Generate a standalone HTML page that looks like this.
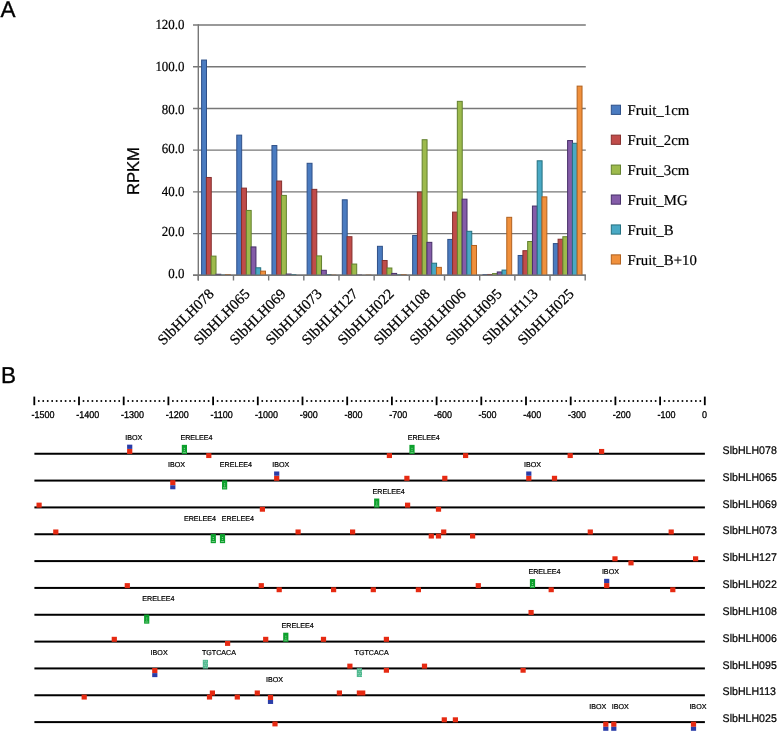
<!DOCTYPE html>
<html><head><meta charset="utf-8"><style>
html,body{margin:0;padding:0;background:#fff;}
body{width:778px;height:732px;overflow:hidden;}
svg{display:block;will-change:transform;} text{text-rendering:geometricPrecision;}
</style></head><body>
<svg width="778" height="732" viewBox="0 0 778 732">
<text transform="translate(0.6,17.0)" font-family='"Liberation Sans", sans-serif' font-size="22.5" fill="#000" stroke="#000" stroke-width="0.35">A</text>
<line x1="193" y1="275.30" x2="585.80" y2="275.30" stroke="#777777" stroke-width="1.4"/>
<text transform="translate(184.4,277.90) scale(1,1.08)" text-anchor="end" font-family='"Liberation Serif", serif' font-size="12.9" fill="#000" stroke="#000" stroke-width="0.2">0.0</text>
<line x1="193" y1="233.58" x2="585.80" y2="233.58" stroke="#777777" stroke-width="1.4"/>
<text transform="translate(184.4,236.20) scale(1,1.08)" text-anchor="end" font-family='"Liberation Serif", serif' font-size="12.9" fill="#000" stroke="#000" stroke-width="0.2">20.0</text>
<line x1="193" y1="191.87" x2="585.80" y2="191.87" stroke="#777777" stroke-width="1.4"/>
<text transform="translate(184.4,195.80) scale(1,1.08)" text-anchor="end" font-family='"Liberation Serif", serif' font-size="12.9" fill="#000" stroke="#000" stroke-width="0.2">40.0</text>
<line x1="193" y1="150.15" x2="585.80" y2="150.15" stroke="#777777" stroke-width="1.4"/>
<text transform="translate(184.4,152.60) scale(1,1.08)" text-anchor="end" font-family='"Liberation Serif", serif' font-size="12.9" fill="#000" stroke="#000" stroke-width="0.2">60.0</text>
<line x1="193" y1="108.43" x2="585.80" y2="108.43" stroke="#777777" stroke-width="1.4"/>
<text transform="translate(184.4,113.80) scale(1,1.08)" text-anchor="end" font-family='"Liberation Serif", serif' font-size="12.9" fill="#000" stroke="#000" stroke-width="0.2">80.0</text>
<line x1="193" y1="66.72" x2="585.80" y2="66.72" stroke="#777777" stroke-width="1.4"/>
<text transform="translate(184.4,70.90) scale(1,1.08)" text-anchor="end" font-family='"Liberation Serif", serif' font-size="12.9" fill="#000" stroke="#000" stroke-width="0.2">100.0</text>
<line x1="193" y1="25.00" x2="585.80" y2="25.00" stroke="#777777" stroke-width="1.4"/>
<text transform="translate(184.4,28.60) scale(1,1.08)" text-anchor="end" font-family='"Liberation Serif", serif' font-size="12.9" fill="#000" stroke="#000" stroke-width="0.2">120.0</text>
<line x1="198.30" y1="24.3" x2="198.30" y2="280.5" stroke="#777777" stroke-width="1.4"/>
<line x1="198.30" y1="275.30" x2="198.30" y2="280.5" stroke="#777777" stroke-width="1.4"/>
<line x1="233.47" y1="275.30" x2="233.47" y2="280.5" stroke="#777777" stroke-width="1.4"/>
<line x1="268.65" y1="275.30" x2="268.65" y2="280.5" stroke="#777777" stroke-width="1.4"/>
<line x1="303.82" y1="275.30" x2="303.82" y2="280.5" stroke="#777777" stroke-width="1.4"/>
<line x1="338.99" y1="275.30" x2="338.99" y2="280.5" stroke="#777777" stroke-width="1.4"/>
<line x1="374.16" y1="275.30" x2="374.16" y2="280.5" stroke="#777777" stroke-width="1.4"/>
<line x1="409.34" y1="275.30" x2="409.34" y2="280.5" stroke="#777777" stroke-width="1.4"/>
<line x1="444.51" y1="275.30" x2="444.51" y2="280.5" stroke="#777777" stroke-width="1.4"/>
<line x1="479.68" y1="275.30" x2="479.68" y2="280.5" stroke="#777777" stroke-width="1.4"/>
<line x1="514.85" y1="275.30" x2="514.85" y2="280.5" stroke="#777777" stroke-width="1.4"/>
<line x1="550.03" y1="275.30" x2="550.03" y2="280.5" stroke="#777777" stroke-width="1.4"/>
<line x1="585.20" y1="275.30" x2="585.20" y2="280.5" stroke="#777777" stroke-width="1.4"/>
<rect x="201.60" y="60.04" width="4.9" height="215.26" fill="#4A7BC0" stroke="#2F5088" stroke-width="1"/>
<rect x="206.36" y="177.47" width="4.9" height="97.83" fill="#C04C4A" stroke="#85302E" stroke-width="1"/>
<rect x="211.12" y="256.11" width="4.9" height="19.19" fill="#9DBA4C" stroke="#62802E" stroke-width="1"/>
<rect x="215.88" y="274.26" width="4.9" height="1.04" fill="#845CA8" stroke="#472F68" stroke-width="1"/>
<rect x="220.64" y="275.09" width="4.9" height="0.21" fill="#49A9C4" stroke="#24707F" stroke-width="1"/>
<rect x="225.40" y="274.67" width="4.9" height="0.63" fill="#F0903C" stroke="#B0611F" stroke-width="1"/>
<rect x="236.77" y="135.13" width="4.9" height="140.17" fill="#4A7BC0" stroke="#2F5088" stroke-width="1"/>
<rect x="241.53" y="188.11" width="4.9" height="87.19" fill="#C04C4A" stroke="#85302E" stroke-width="1"/>
<rect x="246.29" y="210.43" width="4.9" height="64.87" fill="#9DBA4C" stroke="#62802E" stroke-width="1"/>
<rect x="251.05" y="246.93" width="4.9" height="28.37" fill="#845CA8" stroke="#472F68" stroke-width="1"/>
<rect x="255.81" y="267.79" width="4.9" height="7.51" fill="#49A9C4" stroke="#24707F" stroke-width="1"/>
<rect x="260.57" y="271.13" width="4.9" height="4.17" fill="#F0903C" stroke="#B0611F" stroke-width="1"/>
<rect x="271.95" y="145.56" width="4.9" height="129.74" fill="#4A7BC0" stroke="#2F5088" stroke-width="1"/>
<rect x="276.71" y="181.02" width="4.9" height="94.28" fill="#C04C4A" stroke="#85302E" stroke-width="1"/>
<rect x="281.47" y="195.41" width="4.9" height="79.89" fill="#9DBA4C" stroke="#62802E" stroke-width="1"/>
<rect x="286.23" y="274.05" width="4.9" height="1.25" fill="#845CA8" stroke="#472F68" stroke-width="1"/>
<rect x="290.99" y="274.67" width="4.9" height="0.63" fill="#49A9C4" stroke="#24707F" stroke-width="1"/>
<rect x="307.12" y="163.29" width="4.9" height="112.01" fill="#4A7BC0" stroke="#2F5088" stroke-width="1"/>
<rect x="311.88" y="189.36" width="4.9" height="85.94" fill="#C04C4A" stroke="#85302E" stroke-width="1"/>
<rect x="316.64" y="255.90" width="4.9" height="19.40" fill="#9DBA4C" stroke="#62802E" stroke-width="1"/>
<rect x="321.40" y="270.29" width="4.9" height="5.01" fill="#845CA8" stroke="#472F68" stroke-width="1"/>
<rect x="326.16" y="274.67" width="4.9" height="0.63" fill="#49A9C4" stroke="#24707F" stroke-width="1"/>
<rect x="330.92" y="275.09" width="4.9" height="0.21" fill="#F0903C" stroke="#B0611F" stroke-width="1"/>
<rect x="342.29" y="199.79" width="4.9" height="75.51" fill="#4A7BC0" stroke="#2F5088" stroke-width="1"/>
<rect x="347.05" y="236.71" width="4.9" height="38.59" fill="#C04C4A" stroke="#85302E" stroke-width="1"/>
<rect x="351.81" y="264.04" width="4.9" height="11.26" fill="#9DBA4C" stroke="#62802E" stroke-width="1"/>
<rect x="356.57" y="275.09" width="4.9" height="0.21" fill="#845CA8" stroke="#472F68" stroke-width="1"/>
<rect x="366.09" y="275.09" width="4.9" height="0.21" fill="#F0903C" stroke="#B0611F" stroke-width="1"/>
<rect x="377.46" y="246.31" width="4.9" height="28.99" fill="#4A7BC0" stroke="#2F5088" stroke-width="1"/>
<rect x="382.22" y="260.49" width="4.9" height="14.81" fill="#C04C4A" stroke="#85302E" stroke-width="1"/>
<rect x="386.98" y="268.00" width="4.9" height="7.30" fill="#9DBA4C" stroke="#62802E" stroke-width="1"/>
<rect x="391.74" y="273.42" width="4.9" height="1.88" fill="#845CA8" stroke="#472F68" stroke-width="1"/>
<rect x="396.50" y="274.88" width="4.9" height="0.42" fill="#49A9C4" stroke="#24707F" stroke-width="1"/>
<rect x="401.26" y="274.67" width="4.9" height="0.63" fill="#F0903C" stroke="#B0611F" stroke-width="1"/>
<rect x="412.64" y="235.46" width="4.9" height="39.84" fill="#4A7BC0" stroke="#2F5088" stroke-width="1"/>
<rect x="417.40" y="192.08" width="4.9" height="83.22" fill="#C04C4A" stroke="#85302E" stroke-width="1"/>
<rect x="422.16" y="139.72" width="4.9" height="135.58" fill="#9DBA4C" stroke="#62802E" stroke-width="1"/>
<rect x="426.92" y="242.34" width="4.9" height="32.96" fill="#845CA8" stroke="#472F68" stroke-width="1"/>
<rect x="431.68" y="263.20" width="4.9" height="12.10" fill="#49A9C4" stroke="#24707F" stroke-width="1"/>
<rect x="436.44" y="267.37" width="4.9" height="7.93" fill="#F0903C" stroke="#B0611F" stroke-width="1"/>
<rect x="447.81" y="239.42" width="4.9" height="35.88" fill="#4A7BC0" stroke="#2F5088" stroke-width="1"/>
<rect x="452.57" y="212.10" width="4.9" height="63.20" fill="#C04C4A" stroke="#85302E" stroke-width="1"/>
<rect x="457.33" y="101.34" width="4.9" height="173.96" fill="#9DBA4C" stroke="#62802E" stroke-width="1"/>
<rect x="462.09" y="199.17" width="4.9" height="76.13" fill="#845CA8" stroke="#472F68" stroke-width="1"/>
<rect x="466.85" y="231.29" width="4.9" height="44.01" fill="#49A9C4" stroke="#24707F" stroke-width="1"/>
<rect x="471.61" y="245.47" width="4.9" height="29.83" fill="#F0903C" stroke="#B0611F" stroke-width="1"/>
<rect x="482.98" y="274.67" width="4.9" height="0.63" fill="#4A7BC0" stroke="#2F5088" stroke-width="1"/>
<rect x="487.74" y="274.47" width="4.9" height="0.83" fill="#C04C4A" stroke="#85302E" stroke-width="1"/>
<rect x="492.50" y="273.63" width="4.9" height="1.67" fill="#9DBA4C" stroke="#62802E" stroke-width="1"/>
<rect x="497.26" y="271.96" width="4.9" height="3.34" fill="#845CA8" stroke="#472F68" stroke-width="1"/>
<rect x="502.02" y="270.09" width="4.9" height="5.21" fill="#49A9C4" stroke="#24707F" stroke-width="1"/>
<rect x="506.78" y="217.31" width="4.9" height="57.99" fill="#F0903C" stroke="#B0611F" stroke-width="1"/>
<rect x="518.15" y="255.48" width="4.9" height="19.82" fill="#4A7BC0" stroke="#2F5088" stroke-width="1"/>
<rect x="522.91" y="250.69" width="4.9" height="24.61" fill="#C04C4A" stroke="#85302E" stroke-width="1"/>
<rect x="527.67" y="241.51" width="4.9" height="33.79" fill="#9DBA4C" stroke="#62802E" stroke-width="1"/>
<rect x="532.43" y="206.05" width="4.9" height="69.25" fill="#845CA8" stroke="#472F68" stroke-width="1"/>
<rect x="537.19" y="160.79" width="4.9" height="114.51" fill="#49A9C4" stroke="#24707F" stroke-width="1"/>
<rect x="541.95" y="196.87" width="4.9" height="78.43" fill="#F0903C" stroke="#B0611F" stroke-width="1"/>
<rect x="553.33" y="243.60" width="4.9" height="31.70" fill="#4A7BC0" stroke="#2F5088" stroke-width="1"/>
<rect x="558.09" y="239.22" width="4.9" height="36.08" fill="#C04C4A" stroke="#85302E" stroke-width="1"/>
<rect x="562.85" y="236.71" width="4.9" height="38.59" fill="#9DBA4C" stroke="#62802E" stroke-width="1"/>
<rect x="567.61" y="140.56" width="4.9" height="134.74" fill="#845CA8" stroke="#472F68" stroke-width="1"/>
<rect x="572.37" y="143.27" width="4.9" height="132.03" fill="#49A9C4" stroke="#24707F" stroke-width="1"/>
<rect x="577.13" y="86.11" width="4.9" height="189.19" fill="#F0903C" stroke="#B0611F" stroke-width="1"/>
<line x1="193" y1="275.30" x2="585.80" y2="275.30" stroke="#777777" stroke-width="1.4"/>
<text transform="translate(214.70,294.70) rotate(-45)" text-anchor="end" font-family='"Liberation Serif", serif' font-size="14.8" fill="#000" stroke="#000" stroke-width="0.25">SlbHLH078</text>
<text transform="translate(250.70,294.70) rotate(-45)" text-anchor="end" font-family='"Liberation Serif", serif' font-size="14.8" fill="#000" stroke="#000" stroke-width="0.25">SlbHLH065</text>
<text transform="translate(286.70,294.70) rotate(-45)" text-anchor="end" font-family='"Liberation Serif", serif' font-size="14.8" fill="#000" stroke="#000" stroke-width="0.25">SlbHLH069</text>
<text transform="translate(322.70,294.70) rotate(-45)" text-anchor="end" font-family='"Liberation Serif", serif' font-size="14.8" fill="#000" stroke="#000" stroke-width="0.25">SlbHLH073</text>
<text transform="translate(358.70,294.70) rotate(-45)" text-anchor="end" font-family='"Liberation Serif", serif' font-size="14.8" fill="#000" stroke="#000" stroke-width="0.25">SlbHLH127</text>
<text transform="translate(394.70,294.70) rotate(-45)" text-anchor="end" font-family='"Liberation Serif", serif' font-size="14.8" fill="#000" stroke="#000" stroke-width="0.25">SlbHLH022</text>
<text transform="translate(430.70,294.70) rotate(-45)" text-anchor="end" font-family='"Liberation Serif", serif' font-size="14.8" fill="#000" stroke="#000" stroke-width="0.25">SlbHLH108</text>
<text transform="translate(466.70,294.70) rotate(-45)" text-anchor="end" font-family='"Liberation Serif", serif' font-size="14.8" fill="#000" stroke="#000" stroke-width="0.25">SlbHLH006</text>
<text transform="translate(502.70,294.70) rotate(-45)" text-anchor="end" font-family='"Liberation Serif", serif' font-size="14.8" fill="#000" stroke="#000" stroke-width="0.25">SlbHLH095</text>
<text transform="translate(538.70,294.70) rotate(-45)" text-anchor="end" font-family='"Liberation Serif", serif' font-size="14.8" fill="#000" stroke="#000" stroke-width="0.25">SlbHLH113</text>
<text transform="translate(574.70,294.70) rotate(-45)" text-anchor="end" font-family='"Liberation Serif", serif' font-size="14.8" fill="#000" stroke="#000" stroke-width="0.25">SlbHLH025</text>
<text transform="translate(139.0,195) rotate(-90) scale(1,1.03)" font-family='"Liberation Sans", sans-serif' font-size="16.6" fill="#000" stroke="#000" stroke-width="0.3">RPKM</text>
<rect x="611.3" y="105.20" width="9.2" height="9.2" fill="#4A7BC0" stroke="#2F5088" stroke-width="1"/>
<text x="627.6" y="115.00" font-family='"Liberation Serif", serif' font-size="14.8" fill="#000" stroke="#000" stroke-width="0.2">Fruit_1cm</text>
<rect x="611.3" y="135.13" width="9.2" height="9.2" fill="#C04C4A" stroke="#85302E" stroke-width="1"/>
<text x="627.6" y="144.93" font-family='"Liberation Serif", serif' font-size="14.8" fill="#000" stroke="#000" stroke-width="0.2">Fruit_2cm</text>
<rect x="611.3" y="165.06" width="9.2" height="9.2" fill="#9DBA4C" stroke="#62802E" stroke-width="1"/>
<text x="627.6" y="174.86" font-family='"Liberation Serif", serif' font-size="14.8" fill="#000" stroke="#000" stroke-width="0.2">Fruit_3cm</text>
<rect x="611.3" y="194.99" width="9.2" height="9.2" fill="#845CA8" stroke="#472F68" stroke-width="1"/>
<text x="627.6" y="204.79" font-family='"Liberation Serif", serif' font-size="14.8" fill="#000" stroke="#000" stroke-width="0.2">Fruit_MG</text>
<rect x="611.3" y="224.92" width="9.2" height="9.2" fill="#49A9C4" stroke="#24707F" stroke-width="1"/>
<text x="627.6" y="234.72" font-family='"Liberation Serif", serif' font-size="14.8" fill="#000" stroke="#000" stroke-width="0.2">Fruit_B</text>
<rect x="611.3" y="254.85" width="9.2" height="9.2" fill="#F0903C" stroke="#B0611F" stroke-width="1"/>
<text x="627.6" y="264.65" font-family='"Liberation Serif", serif' font-size="14.8" fill="#000" stroke="#000" stroke-width="0.2">Fruit_B+10</text>
<text transform="translate(0.9,382.9) scale(1,1.02)" font-family='"Liberation Sans", sans-serif' font-size="22.5" fill="#000" stroke="#000" stroke-width="0.35">B</text>
<rect x="33.40" y="396.6" width="1.8" height="8.6" fill="#000"/>
<text transform="translate(31.60,418.1) scale(1,1.1)" font-family='"Liberation Sans", sans-serif' font-size="9" fill="#000" stroke="#000" stroke-width="0.3">-1500</text>
<rect x="37.97" y="400.1" width="1.6" height="1.8" fill="#000"/>
<rect x="42.44" y="400.1" width="1.6" height="1.8" fill="#000"/>
<rect x="46.91" y="400.1" width="1.6" height="1.8" fill="#000"/>
<rect x="51.38" y="400.1" width="1.6" height="1.8" fill="#000"/>
<rect x="55.85" y="400.1" width="1.6" height="1.8" fill="#000"/>
<rect x="60.32" y="400.1" width="1.6" height="1.8" fill="#000"/>
<rect x="64.79" y="400.1" width="1.6" height="1.8" fill="#000"/>
<rect x="69.26" y="400.1" width="1.6" height="1.8" fill="#000"/>
<rect x="73.73" y="400.1" width="1.6" height="1.8" fill="#000"/>
<rect x="78.10" y="396.6" width="1.8" height="8.6" fill="#000"/>
<text transform="translate(76.30,418.1) scale(1,1.1)" font-family='"Liberation Sans", sans-serif' font-size="9" fill="#000" stroke="#000" stroke-width="0.3">-1400</text>
<rect x="82.67" y="400.1" width="1.6" height="1.8" fill="#000"/>
<rect x="87.14" y="400.1" width="1.6" height="1.8" fill="#000"/>
<rect x="91.61" y="400.1" width="1.6" height="1.8" fill="#000"/>
<rect x="96.08" y="400.1" width="1.6" height="1.8" fill="#000"/>
<rect x="100.55" y="400.1" width="1.6" height="1.8" fill="#000"/>
<rect x="105.02" y="400.1" width="1.6" height="1.8" fill="#000"/>
<rect x="109.49" y="400.1" width="1.6" height="1.8" fill="#000"/>
<rect x="113.96" y="400.1" width="1.6" height="1.8" fill="#000"/>
<rect x="118.43" y="400.1" width="1.6" height="1.8" fill="#000"/>
<rect x="122.80" y="396.6" width="1.8" height="8.6" fill="#000"/>
<text transform="translate(121.00,418.1) scale(1,1.1)" font-family='"Liberation Sans", sans-serif' font-size="9" fill="#000" stroke="#000" stroke-width="0.3">-1300</text>
<rect x="127.37" y="400.1" width="1.6" height="1.8" fill="#000"/>
<rect x="131.84" y="400.1" width="1.6" height="1.8" fill="#000"/>
<rect x="136.31" y="400.1" width="1.6" height="1.8" fill="#000"/>
<rect x="140.78" y="400.1" width="1.6" height="1.8" fill="#000"/>
<rect x="145.25" y="400.1" width="1.6" height="1.8" fill="#000"/>
<rect x="149.72" y="400.1" width="1.6" height="1.8" fill="#000"/>
<rect x="154.19" y="400.1" width="1.6" height="1.8" fill="#000"/>
<rect x="158.66" y="400.1" width="1.6" height="1.8" fill="#000"/>
<rect x="163.13" y="400.1" width="1.6" height="1.8" fill="#000"/>
<rect x="167.50" y="396.6" width="1.8" height="8.6" fill="#000"/>
<text transform="translate(165.70,418.1) scale(1,1.1)" font-family='"Liberation Sans", sans-serif' font-size="9" fill="#000" stroke="#000" stroke-width="0.3">-1200</text>
<rect x="172.07" y="400.1" width="1.6" height="1.8" fill="#000"/>
<rect x="176.54" y="400.1" width="1.6" height="1.8" fill="#000"/>
<rect x="181.01" y="400.1" width="1.6" height="1.8" fill="#000"/>
<rect x="185.48" y="400.1" width="1.6" height="1.8" fill="#000"/>
<rect x="189.95" y="400.1" width="1.6" height="1.8" fill="#000"/>
<rect x="194.42" y="400.1" width="1.6" height="1.8" fill="#000"/>
<rect x="198.89" y="400.1" width="1.6" height="1.8" fill="#000"/>
<rect x="203.36" y="400.1" width="1.6" height="1.8" fill="#000"/>
<rect x="207.83" y="400.1" width="1.6" height="1.8" fill="#000"/>
<rect x="212.20" y="396.6" width="1.8" height="8.6" fill="#000"/>
<text transform="translate(210.40,418.1) scale(1,1.1)" font-family='"Liberation Sans", sans-serif' font-size="9" fill="#000" stroke="#000" stroke-width="0.3">-1100</text>
<rect x="216.77" y="400.1" width="1.6" height="1.8" fill="#000"/>
<rect x="221.24" y="400.1" width="1.6" height="1.8" fill="#000"/>
<rect x="225.71" y="400.1" width="1.6" height="1.8" fill="#000"/>
<rect x="230.18" y="400.1" width="1.6" height="1.8" fill="#000"/>
<rect x="234.65" y="400.1" width="1.6" height="1.8" fill="#000"/>
<rect x="239.12" y="400.1" width="1.6" height="1.8" fill="#000"/>
<rect x="243.59" y="400.1" width="1.6" height="1.8" fill="#000"/>
<rect x="248.06" y="400.1" width="1.6" height="1.8" fill="#000"/>
<rect x="252.53" y="400.1" width="1.6" height="1.8" fill="#000"/>
<rect x="256.90" y="396.6" width="1.8" height="8.6" fill="#000"/>
<text transform="translate(255.10,418.1) scale(1,1.1)" font-family='"Liberation Sans", sans-serif' font-size="9" fill="#000" stroke="#000" stroke-width="0.3">-1000</text>
<rect x="261.47" y="400.1" width="1.6" height="1.8" fill="#000"/>
<rect x="265.94" y="400.1" width="1.6" height="1.8" fill="#000"/>
<rect x="270.41" y="400.1" width="1.6" height="1.8" fill="#000"/>
<rect x="274.88" y="400.1" width="1.6" height="1.8" fill="#000"/>
<rect x="279.35" y="400.1" width="1.6" height="1.8" fill="#000"/>
<rect x="283.82" y="400.1" width="1.6" height="1.8" fill="#000"/>
<rect x="288.29" y="400.1" width="1.6" height="1.8" fill="#000"/>
<rect x="292.76" y="400.1" width="1.6" height="1.8" fill="#000"/>
<rect x="297.23" y="400.1" width="1.6" height="1.8" fill="#000"/>
<rect x="301.60" y="396.6" width="1.8" height="8.6" fill="#000"/>
<text transform="translate(299.80,418.1) scale(1,1.1)" font-family='"Liberation Sans", sans-serif' font-size="9" fill="#000" stroke="#000" stroke-width="0.3">-900</text>
<rect x="306.17" y="400.1" width="1.6" height="1.8" fill="#000"/>
<rect x="310.64" y="400.1" width="1.6" height="1.8" fill="#000"/>
<rect x="315.11" y="400.1" width="1.6" height="1.8" fill="#000"/>
<rect x="319.58" y="400.1" width="1.6" height="1.8" fill="#000"/>
<rect x="324.05" y="400.1" width="1.6" height="1.8" fill="#000"/>
<rect x="328.52" y="400.1" width="1.6" height="1.8" fill="#000"/>
<rect x="332.99" y="400.1" width="1.6" height="1.8" fill="#000"/>
<rect x="337.46" y="400.1" width="1.6" height="1.8" fill="#000"/>
<rect x="341.93" y="400.1" width="1.6" height="1.8" fill="#000"/>
<rect x="346.30" y="396.6" width="1.8" height="8.6" fill="#000"/>
<text transform="translate(344.50,418.1) scale(1,1.1)" font-family='"Liberation Sans", sans-serif' font-size="9" fill="#000" stroke="#000" stroke-width="0.3">-800</text>
<rect x="350.87" y="400.1" width="1.6" height="1.8" fill="#000"/>
<rect x="355.34" y="400.1" width="1.6" height="1.8" fill="#000"/>
<rect x="359.81" y="400.1" width="1.6" height="1.8" fill="#000"/>
<rect x="364.28" y="400.1" width="1.6" height="1.8" fill="#000"/>
<rect x="368.75" y="400.1" width="1.6" height="1.8" fill="#000"/>
<rect x="373.22" y="400.1" width="1.6" height="1.8" fill="#000"/>
<rect x="377.69" y="400.1" width="1.6" height="1.8" fill="#000"/>
<rect x="382.16" y="400.1" width="1.6" height="1.8" fill="#000"/>
<rect x="386.63" y="400.1" width="1.6" height="1.8" fill="#000"/>
<rect x="391.00" y="396.6" width="1.8" height="8.6" fill="#000"/>
<text transform="translate(389.20,418.1) scale(1,1.1)" font-family='"Liberation Sans", sans-serif' font-size="9" fill="#000" stroke="#000" stroke-width="0.3">-700</text>
<rect x="395.57" y="400.1" width="1.6" height="1.8" fill="#000"/>
<rect x="400.04" y="400.1" width="1.6" height="1.8" fill="#000"/>
<rect x="404.51" y="400.1" width="1.6" height="1.8" fill="#000"/>
<rect x="408.98" y="400.1" width="1.6" height="1.8" fill="#000"/>
<rect x="413.45" y="400.1" width="1.6" height="1.8" fill="#000"/>
<rect x="417.92" y="400.1" width="1.6" height="1.8" fill="#000"/>
<rect x="422.39" y="400.1" width="1.6" height="1.8" fill="#000"/>
<rect x="426.86" y="400.1" width="1.6" height="1.8" fill="#000"/>
<rect x="431.33" y="400.1" width="1.6" height="1.8" fill="#000"/>
<rect x="435.70" y="396.6" width="1.8" height="8.6" fill="#000"/>
<text transform="translate(433.90,418.1) scale(1,1.1)" font-family='"Liberation Sans", sans-serif' font-size="9" fill="#000" stroke="#000" stroke-width="0.3">-600</text>
<rect x="440.27" y="400.1" width="1.6" height="1.8" fill="#000"/>
<rect x="444.74" y="400.1" width="1.6" height="1.8" fill="#000"/>
<rect x="449.21" y="400.1" width="1.6" height="1.8" fill="#000"/>
<rect x="453.68" y="400.1" width="1.6" height="1.8" fill="#000"/>
<rect x="458.15" y="400.1" width="1.6" height="1.8" fill="#000"/>
<rect x="462.62" y="400.1" width="1.6" height="1.8" fill="#000"/>
<rect x="467.09" y="400.1" width="1.6" height="1.8" fill="#000"/>
<rect x="471.56" y="400.1" width="1.6" height="1.8" fill="#000"/>
<rect x="476.03" y="400.1" width="1.6" height="1.8" fill="#000"/>
<rect x="480.40" y="396.6" width="1.8" height="8.6" fill="#000"/>
<text transform="translate(478.60,418.1) scale(1,1.1)" font-family='"Liberation Sans", sans-serif' font-size="9" fill="#000" stroke="#000" stroke-width="0.3">-500</text>
<rect x="484.97" y="400.1" width="1.6" height="1.8" fill="#000"/>
<rect x="489.44" y="400.1" width="1.6" height="1.8" fill="#000"/>
<rect x="493.91" y="400.1" width="1.6" height="1.8" fill="#000"/>
<rect x="498.38" y="400.1" width="1.6" height="1.8" fill="#000"/>
<rect x="502.85" y="400.1" width="1.6" height="1.8" fill="#000"/>
<rect x="507.32" y="400.1" width="1.6" height="1.8" fill="#000"/>
<rect x="511.79" y="400.1" width="1.6" height="1.8" fill="#000"/>
<rect x="516.26" y="400.1" width="1.6" height="1.8" fill="#000"/>
<rect x="520.73" y="400.1" width="1.6" height="1.8" fill="#000"/>
<rect x="525.10" y="396.6" width="1.8" height="8.6" fill="#000"/>
<text transform="translate(523.30,418.1) scale(1,1.1)" font-family='"Liberation Sans", sans-serif' font-size="9" fill="#000" stroke="#000" stroke-width="0.3">-400</text>
<rect x="529.67" y="400.1" width="1.6" height="1.8" fill="#000"/>
<rect x="534.14" y="400.1" width="1.6" height="1.8" fill="#000"/>
<rect x="538.61" y="400.1" width="1.6" height="1.8" fill="#000"/>
<rect x="543.08" y="400.1" width="1.6" height="1.8" fill="#000"/>
<rect x="547.55" y="400.1" width="1.6" height="1.8" fill="#000"/>
<rect x="552.02" y="400.1" width="1.6" height="1.8" fill="#000"/>
<rect x="556.49" y="400.1" width="1.6" height="1.8" fill="#000"/>
<rect x="560.96" y="400.1" width="1.6" height="1.8" fill="#000"/>
<rect x="565.43" y="400.1" width="1.6" height="1.8" fill="#000"/>
<rect x="569.80" y="396.6" width="1.8" height="8.6" fill="#000"/>
<text transform="translate(568.00,418.1) scale(1,1.1)" font-family='"Liberation Sans", sans-serif' font-size="9" fill="#000" stroke="#000" stroke-width="0.3">-300</text>
<rect x="574.37" y="400.1" width="1.6" height="1.8" fill="#000"/>
<rect x="578.84" y="400.1" width="1.6" height="1.8" fill="#000"/>
<rect x="583.31" y="400.1" width="1.6" height="1.8" fill="#000"/>
<rect x="587.78" y="400.1" width="1.6" height="1.8" fill="#000"/>
<rect x="592.25" y="400.1" width="1.6" height="1.8" fill="#000"/>
<rect x="596.72" y="400.1" width="1.6" height="1.8" fill="#000"/>
<rect x="601.19" y="400.1" width="1.6" height="1.8" fill="#000"/>
<rect x="605.66" y="400.1" width="1.6" height="1.8" fill="#000"/>
<rect x="610.13" y="400.1" width="1.6" height="1.8" fill="#000"/>
<rect x="614.50" y="396.6" width="1.8" height="8.6" fill="#000"/>
<text transform="translate(612.70,418.1) scale(1,1.1)" font-family='"Liberation Sans", sans-serif' font-size="9" fill="#000" stroke="#000" stroke-width="0.3">-200</text>
<rect x="619.07" y="400.1" width="1.6" height="1.8" fill="#000"/>
<rect x="623.54" y="400.1" width="1.6" height="1.8" fill="#000"/>
<rect x="628.01" y="400.1" width="1.6" height="1.8" fill="#000"/>
<rect x="632.48" y="400.1" width="1.6" height="1.8" fill="#000"/>
<rect x="636.95" y="400.1" width="1.6" height="1.8" fill="#000"/>
<rect x="641.42" y="400.1" width="1.6" height="1.8" fill="#000"/>
<rect x="645.89" y="400.1" width="1.6" height="1.8" fill="#000"/>
<rect x="650.36" y="400.1" width="1.6" height="1.8" fill="#000"/>
<rect x="654.83" y="400.1" width="1.6" height="1.8" fill="#000"/>
<rect x="659.20" y="396.6" width="1.8" height="8.6" fill="#000"/>
<text transform="translate(657.40,418.1) scale(1,1.1)" font-family='"Liberation Sans", sans-serif' font-size="9" fill="#000" stroke="#000" stroke-width="0.3">-100</text>
<rect x="663.77" y="400.1" width="1.6" height="1.8" fill="#000"/>
<rect x="668.24" y="400.1" width="1.6" height="1.8" fill="#000"/>
<rect x="672.71" y="400.1" width="1.6" height="1.8" fill="#000"/>
<rect x="677.18" y="400.1" width="1.6" height="1.8" fill="#000"/>
<rect x="681.65" y="400.1" width="1.6" height="1.8" fill="#000"/>
<rect x="686.12" y="400.1" width="1.6" height="1.8" fill="#000"/>
<rect x="690.59" y="400.1" width="1.6" height="1.8" fill="#000"/>
<rect x="695.06" y="400.1" width="1.6" height="1.8" fill="#000"/>
<rect x="699.53" y="400.1" width="1.6" height="1.8" fill="#000"/>
<rect x="703.90" y="396.6" width="1.8" height="8.6" fill="#000"/>
<text transform="translate(702.10,418.1) scale(1,1.1)" font-family='"Liberation Sans", sans-serif' font-size="9" fill="#000" stroke="#000" stroke-width="0.3">0</text>
<rect x="34.4" y="452.75" width="670.5" height="2.0" fill="#000"/>
<rect x="127.10" y="448.90" width="5.20" height="5.05" fill="#E62A12"/>
<rect x="127.10" y="444.65" width="5.20" height="4.25" fill="#2B3DA8"/>
<rect x="181.80" y="444.85" width="5.20" height="9.10" fill="#0CA02C"/>
<rect x="183.80" y="447.85" width="1.2" height="1.0" fill="#7fd08f"/>
<rect x="183.80" y="449.85" width="1.2" height="1.0" fill="#7fd08f"/>
<rect x="182.80" y="451.85" width="3.2" height="0.9" fill="#7fd08f"/>
<rect x="206.20" y="453.15" width="5.20" height="4.9" fill="#E62A12"/>
<rect x="386.80" y="453.15" width="5.20" height="4.9" fill="#E62A12"/>
<rect x="409.40" y="444.85" width="5.20" height="9.10" fill="#0CA02C"/>
<rect x="411.40" y="447.85" width="1.2" height="1.0" fill="#7fd08f"/>
<rect x="411.40" y="449.85" width="1.2" height="1.0" fill="#7fd08f"/>
<rect x="410.40" y="451.85" width="3.2" height="0.9" fill="#7fd08f"/>
<rect x="463.00" y="453.15" width="5.20" height="4.9" fill="#E62A12"/>
<rect x="567.60" y="453.15" width="5.20" height="4.9" fill="#E62A12"/>
<rect x="599.00" y="448.95" width="5.20" height="5.0" fill="#E62A12"/>
<text x="125.30" y="440.25" font-family='"Liberation Sans", sans-serif' font-size="7.15" fill="#000" stroke="#000" stroke-width="0.2">IBOX</text>
<text x="180.40" y="440.25" font-family='"Liberation Sans", sans-serif' font-size="7.15" fill="#000" stroke="#000" stroke-width="0.2">ERELEE4</text>
<text x="407.70" y="440.25" font-family='"Liberation Sans", sans-serif' font-size="7.15" fill="#000" stroke="#000" stroke-width="0.2">ERELEE4</text>
<text transform="translate(722.6,453.95) scale(1,1.05)" font-family='"Liberation Sans", sans-serif' font-size="10.6" fill="#000" stroke="#000" stroke-width="0.22">SlbHLH078</text>
<rect x="34.4" y="479.58" width="670.5" height="2.0" fill="#000"/>
<rect x="170.20" y="480.19" width="5.20" height="5.1" fill="#E62A12"/>
<rect x="170.20" y="485.28" width="5.20" height="4.0" fill="#2B3DA8"/>
<rect x="222.00" y="480.38" width="5.20" height="9.10" fill="#0CA02C"/>
<rect x="224.00" y="483.38" width="1.2" height="1.0" fill="#7fd08f"/>
<rect x="224.00" y="485.38" width="1.2" height="1.0" fill="#7fd08f"/>
<rect x="223.00" y="487.38" width="3.2" height="0.9" fill="#7fd08f"/>
<rect x="274.10" y="475.73" width="5.20" height="5.05" fill="#E62A12"/>
<rect x="274.10" y="471.48" width="5.20" height="4.25" fill="#2B3DA8"/>
<rect x="404.30" y="475.78" width="5.20" height="5.0" fill="#E62A12"/>
<rect x="442.20" y="475.78" width="5.20" height="5.0" fill="#E62A12"/>
<rect x="526.20" y="475.73" width="5.20" height="5.05" fill="#E62A12"/>
<rect x="526.20" y="471.48" width="5.20" height="4.25" fill="#2B3DA8"/>
<rect x="551.90" y="475.78" width="5.20" height="5.0" fill="#E62A12"/>
<text x="168.00" y="467.08" font-family='"Liberation Sans", sans-serif' font-size="7.15" fill="#000" stroke="#000" stroke-width="0.2">IBOX</text>
<text x="219.80" y="467.08" font-family='"Liberation Sans", sans-serif' font-size="7.15" fill="#000" stroke="#000" stroke-width="0.2">ERELEE4</text>
<text x="272.30" y="467.08" font-family='"Liberation Sans", sans-serif' font-size="7.15" fill="#000" stroke="#000" stroke-width="0.2">IBOX</text>
<text x="524.00" y="467.08" font-family='"Liberation Sans", sans-serif' font-size="7.15" fill="#000" stroke="#000" stroke-width="0.2">IBOX</text>
<text transform="translate(722.6,480.78) scale(1,1.05)" font-family='"Liberation Sans", sans-serif' font-size="10.6" fill="#000" stroke="#000" stroke-width="0.22">SlbHLH065</text>
<rect x="34.4" y="506.42" width="670.5" height="2.0" fill="#000"/>
<rect x="36.50" y="502.62" width="5.20" height="5.0" fill="#E62A12"/>
<rect x="259.80" y="506.82" width="5.20" height="4.9" fill="#E62A12"/>
<rect x="374.10" y="498.52" width="5.20" height="9.10" fill="#0CA02C"/>
<rect x="376.10" y="501.52" width="1.2" height="1.0" fill="#7fd08f"/>
<rect x="376.10" y="503.52" width="1.2" height="1.0" fill="#7fd08f"/>
<rect x="375.10" y="505.52" width="3.2" height="0.9" fill="#7fd08f"/>
<rect x="405.00" y="502.62" width="5.20" height="5.0" fill="#E62A12"/>
<rect x="435.90" y="506.82" width="5.20" height="4.9" fill="#E62A12"/>
<text x="372.60" y="493.92" font-family='"Liberation Sans", sans-serif' font-size="7.15" fill="#000" stroke="#000" stroke-width="0.2">ERELEE4</text>
<text transform="translate(722.6,507.62) scale(1,1.05)" font-family='"Liberation Sans", sans-serif' font-size="10.6" fill="#000" stroke="#000" stroke-width="0.22">SlbHLH069</text>
<rect x="34.4" y="533.25" width="670.5" height="2.0" fill="#000"/>
<rect x="53.20" y="529.46" width="5.20" height="5.0" fill="#E62A12"/>
<rect x="210.70" y="534.05" width="5.20" height="9.10" fill="#0CA02C"/>
<rect x="212.70" y="537.05" width="1.2" height="1.0" fill="#7fd08f"/>
<rect x="212.70" y="539.05" width="1.2" height="1.0" fill="#7fd08f"/>
<rect x="211.70" y="541.05" width="3.2" height="0.9" fill="#7fd08f"/>
<rect x="219.90" y="534.05" width="5.20" height="9.10" fill="#0CA02C"/>
<rect x="221.90" y="537.05" width="1.2" height="1.0" fill="#7fd08f"/>
<rect x="221.90" y="539.05" width="1.2" height="1.0" fill="#7fd08f"/>
<rect x="220.90" y="541.05" width="3.2" height="0.9" fill="#7fd08f"/>
<rect x="295.50" y="529.46" width="5.20" height="5.0" fill="#E62A12"/>
<rect x="350.00" y="529.46" width="5.20" height="5.0" fill="#E62A12"/>
<rect x="428.70" y="533.65" width="5.20" height="4.9" fill="#E62A12"/>
<rect x="435.90" y="533.65" width="5.20" height="4.9" fill="#E62A12"/>
<rect x="441.10" y="529.46" width="5.20" height="5.0" fill="#E62A12"/>
<rect x="470.00" y="533.65" width="5.20" height="4.9" fill="#E62A12"/>
<rect x="587.70" y="529.46" width="5.20" height="5.0" fill="#E62A12"/>
<rect x="668.60" y="529.46" width="5.20" height="5.0" fill="#E62A12"/>
<text x="183.90" y="520.75" font-family='"Liberation Sans", sans-serif' font-size="7.15" fill="#000" stroke="#000" stroke-width="0.2">ERELEE4</text>
<text x="221.80" y="520.75" font-family='"Liberation Sans", sans-serif' font-size="7.15" fill="#000" stroke="#000" stroke-width="0.2">ERELEE4</text>
<text transform="translate(722.6,534.46) scale(1,1.05)" font-family='"Liberation Sans", sans-serif' font-size="10.6" fill="#000" stroke="#000" stroke-width="0.22">SlbHLH073</text>
<rect x="34.4" y="560.09" width="670.5" height="2.0" fill="#000"/>
<rect x="612.40" y="556.29" width="5.20" height="5.0" fill="#E62A12"/>
<rect x="628.40" y="560.49" width="5.20" height="4.9" fill="#E62A12"/>
<rect x="693.00" y="556.29" width="5.20" height="5.0" fill="#E62A12"/>
<text transform="translate(722.6,561.29) scale(1,1.05)" font-family='"Liberation Sans", sans-serif' font-size="10.6" fill="#000" stroke="#000" stroke-width="0.22">SlbHLH127</text>
<rect x="34.4" y="586.92" width="670.5" height="2.0" fill="#000"/>
<rect x="124.70" y="583.12" width="5.20" height="5.0" fill="#E62A12"/>
<rect x="258.70" y="583.12" width="5.20" height="5.0" fill="#E62A12"/>
<rect x="276.60" y="587.32" width="5.20" height="4.9" fill="#E62A12"/>
<rect x="331.00" y="587.32" width="5.20" height="4.9" fill="#E62A12"/>
<rect x="370.70" y="587.32" width="5.20" height="4.9" fill="#E62A12"/>
<rect x="415.80" y="587.32" width="5.20" height="4.9" fill="#E62A12"/>
<rect x="475.70" y="583.12" width="5.20" height="5.0" fill="#E62A12"/>
<rect x="529.90" y="579.02" width="5.20" height="9.10" fill="#0CA02C"/>
<rect x="531.90" y="582.02" width="1.2" height="1.0" fill="#7fd08f"/>
<rect x="531.90" y="584.02" width="1.2" height="1.0" fill="#7fd08f"/>
<rect x="530.90" y="586.02" width="3.2" height="0.9" fill="#7fd08f"/>
<rect x="548.60" y="587.32" width="5.20" height="4.9" fill="#E62A12"/>
<rect x="604.10" y="583.07" width="5.20" height="5.05" fill="#E62A12"/>
<rect x="604.10" y="578.82" width="5.20" height="4.25" fill="#2B3DA8"/>
<rect x="670.20" y="587.32" width="5.20" height="4.9" fill="#E62A12"/>
<text x="528.40" y="574.42" font-family='"Liberation Sans", sans-serif' font-size="7.15" fill="#000" stroke="#000" stroke-width="0.2">ERELEE4</text>
<text x="601.90" y="574.42" font-family='"Liberation Sans", sans-serif' font-size="7.15" fill="#000" stroke="#000" stroke-width="0.2">IBOX</text>
<text transform="translate(722.6,588.12) scale(1,1.05)" font-family='"Liberation Sans", sans-serif' font-size="10.6" fill="#000" stroke="#000" stroke-width="0.22">SlbHLH022</text>
<rect x="34.4" y="613.76" width="670.5" height="2.0" fill="#000"/>
<rect x="144.10" y="614.56" width="5.20" height="9.10" fill="#0CA02C"/>
<rect x="146.10" y="617.56" width="1.2" height="1.0" fill="#7fd08f"/>
<rect x="146.10" y="619.56" width="1.2" height="1.0" fill="#7fd08f"/>
<rect x="145.10" y="621.56" width="3.2" height="0.9" fill="#7fd08f"/>
<rect x="528.50" y="609.96" width="5.20" height="5.0" fill="#E62A12"/>
<text x="142.30" y="601.26" font-family='"Liberation Sans", sans-serif' font-size="7.15" fill="#000" stroke="#000" stroke-width="0.2">ERELEE4</text>
<text transform="translate(722.6,614.96) scale(1,1.05)" font-family='"Liberation Sans", sans-serif' font-size="10.6" fill="#000" stroke="#000" stroke-width="0.22">SlbHLH108</text>
<rect x="34.4" y="640.60" width="670.5" height="2.0" fill="#000"/>
<rect x="111.70" y="636.80" width="5.20" height="5.0" fill="#E62A12"/>
<rect x="225.00" y="641.00" width="5.20" height="4.9" fill="#E62A12"/>
<rect x="263.10" y="636.80" width="5.20" height="5.0" fill="#E62A12"/>
<rect x="283.20" y="632.70" width="5.20" height="9.10" fill="#0CA02C"/>
<rect x="285.20" y="635.70" width="1.2" height="1.0" fill="#7fd08f"/>
<rect x="285.20" y="637.70" width="1.2" height="1.0" fill="#7fd08f"/>
<rect x="284.20" y="639.70" width="3.2" height="0.9" fill="#7fd08f"/>
<rect x="320.90" y="636.80" width="5.20" height="5.0" fill="#E62A12"/>
<rect x="383.80" y="636.80" width="5.20" height="5.0" fill="#E62A12"/>
<text x="281.50" y="628.10" font-family='"Liberation Sans", sans-serif' font-size="7.15" fill="#000" stroke="#000" stroke-width="0.2">ERELEE4</text>
<text transform="translate(722.6,641.80) scale(1,1.05)" font-family='"Liberation Sans", sans-serif' font-size="10.6" fill="#000" stroke="#000" stroke-width="0.22">SlbHLH006</text>
<rect x="34.4" y="667.43" width="670.5" height="2.0" fill="#000"/>
<rect x="152.20" y="668.03" width="5.20" height="5.1" fill="#E62A12"/>
<rect x="152.20" y="673.13" width="5.20" height="4.0" fill="#2B3DA8"/>
<rect x="202.80" y="659.83" width="5.20" height="8.80" fill="#4DB88E"/>
<rect x="203.70" y="660.73" width="1.0" height="1.0" fill="#a8dcc4"/>
<rect x="205.70" y="660.73" width="1.0" height="1.0" fill="#a8dcc4"/>
<rect x="204.70" y="662.73" width="1.0" height="1.0" fill="#a8dcc4"/>
<rect x="206.70" y="662.73" width="1.0" height="1.0" fill="#a8dcc4"/>
<rect x="203.70" y="664.73" width="1.0" height="1.0" fill="#a8dcc4"/>
<rect x="205.70" y="664.73" width="1.0" height="1.0" fill="#a8dcc4"/>
<rect x="204.70" y="666.73" width="1.0" height="1.0" fill="#a8dcc4"/>
<rect x="206.70" y="666.73" width="1.0" height="1.0" fill="#a8dcc4"/>
<rect x="347.30" y="663.63" width="5.20" height="5.0" fill="#E62A12"/>
<rect x="356.80" y="668.23" width="5.20" height="8.80" fill="#4DB88E"/>
<rect x="357.70" y="669.13" width="1.0" height="1.0" fill="#a8dcc4"/>
<rect x="359.70" y="669.13" width="1.0" height="1.0" fill="#a8dcc4"/>
<rect x="358.70" y="671.13" width="1.0" height="1.0" fill="#a8dcc4"/>
<rect x="360.70" y="671.13" width="1.0" height="1.0" fill="#a8dcc4"/>
<rect x="357.70" y="673.13" width="1.0" height="1.0" fill="#a8dcc4"/>
<rect x="359.70" y="673.13" width="1.0" height="1.0" fill="#a8dcc4"/>
<rect x="358.70" y="675.13" width="1.0" height="1.0" fill="#a8dcc4"/>
<rect x="360.70" y="675.13" width="1.0" height="1.0" fill="#a8dcc4"/>
<rect x="383.80" y="667.83" width="5.20" height="4.9" fill="#E62A12"/>
<rect x="421.90" y="663.63" width="5.20" height="5.0" fill="#E62A12"/>
<rect x="520.50" y="667.83" width="5.20" height="4.9" fill="#E62A12"/>
<text x="150.60" y="654.93" font-family='"Liberation Sans", sans-serif' font-size="7.15" fill="#000" stroke="#000" stroke-width="0.2">IBOX</text>
<text x="201.90" y="654.93" font-family='"Liberation Sans", sans-serif' font-size="7.15" fill="#000" stroke="#000" stroke-width="0.2">TGTCACA</text>
<text x="354.60" y="654.93" font-family='"Liberation Sans", sans-serif' font-size="7.15" fill="#000" stroke="#000" stroke-width="0.2">TGTCACA</text>
<text transform="translate(722.6,668.63) scale(1,1.05)" font-family='"Liberation Sans", sans-serif' font-size="10.6" fill="#000" stroke="#000" stroke-width="0.22">SlbHLH095</text>
<rect x="34.4" y="694.26" width="670.5" height="2.0" fill="#000"/>
<rect x="81.60" y="694.66" width="5.20" height="4.9" fill="#E62A12"/>
<rect x="206.90" y="694.66" width="5.20" height="4.9" fill="#E62A12"/>
<rect x="209.80" y="690.47" width="5.20" height="5.0" fill="#E62A12"/>
<rect x="234.70" y="694.66" width="5.20" height="4.9" fill="#E62A12"/>
<rect x="254.70" y="690.47" width="5.20" height="5.0" fill="#E62A12"/>
<rect x="267.90" y="694.87" width="5.20" height="5.1" fill="#E62A12"/>
<rect x="267.90" y="699.97" width="5.20" height="4.0" fill="#2B3DA8"/>
<rect x="336.80" y="690.47" width="5.20" height="5.0" fill="#E62A12"/>
<rect x="356.80" y="690.47" width="8.50" height="5.0" fill="#E62A12"/>
<text x="266.00" y="681.76" font-family='"Liberation Sans", sans-serif' font-size="7.15" fill="#000" stroke="#000" stroke-width="0.2">IBOX</text>
<text transform="translate(722.6,695.47) scale(1,1.05)" font-family='"Liberation Sans", sans-serif' font-size="10.6" fill="#000" stroke="#000" stroke-width="0.22">SlbHLH113</text>
<rect x="34.4" y="721.10" width="670.5" height="2.0" fill="#000"/>
<rect x="272.40" y="721.50" width="5.20" height="4.9" fill="#E62A12"/>
<rect x="441.70" y="717.30" width="5.20" height="5.0" fill="#E62A12"/>
<rect x="452.80" y="717.30" width="5.20" height="5.0" fill="#E62A12"/>
<rect x="603.20" y="721.70" width="5.20" height="5.1" fill="#E62A12"/>
<rect x="603.20" y="726.80" width="5.20" height="4.0" fill="#2B3DA8"/>
<rect x="611.20" y="721.70" width="5.20" height="5.1" fill="#E62A12"/>
<rect x="611.20" y="726.80" width="5.20" height="4.0" fill="#2B3DA8"/>
<rect x="690.90" y="721.70" width="5.20" height="5.1" fill="#E62A12"/>
<rect x="690.90" y="726.80" width="5.20" height="4.0" fill="#2B3DA8"/>
<text x="589.20" y="708.60" font-family='"Liberation Sans", sans-serif' font-size="7.15" fill="#000" stroke="#000" stroke-width="0.2">IBOX</text>
<text x="611.70" y="708.60" font-family='"Liberation Sans", sans-serif' font-size="7.15" fill="#000" stroke="#000" stroke-width="0.2">IBOX</text>
<text x="689.40" y="708.60" font-family='"Liberation Sans", sans-serif' font-size="7.15" fill="#000" stroke="#000" stroke-width="0.2">IBOX</text>
<text transform="translate(722.6,722.30) scale(1,1.05)" font-family='"Liberation Sans", sans-serif' font-size="10.6" fill="#000" stroke="#000" stroke-width="0.22">SlbHLH025</text>
</svg>
</body></html>
